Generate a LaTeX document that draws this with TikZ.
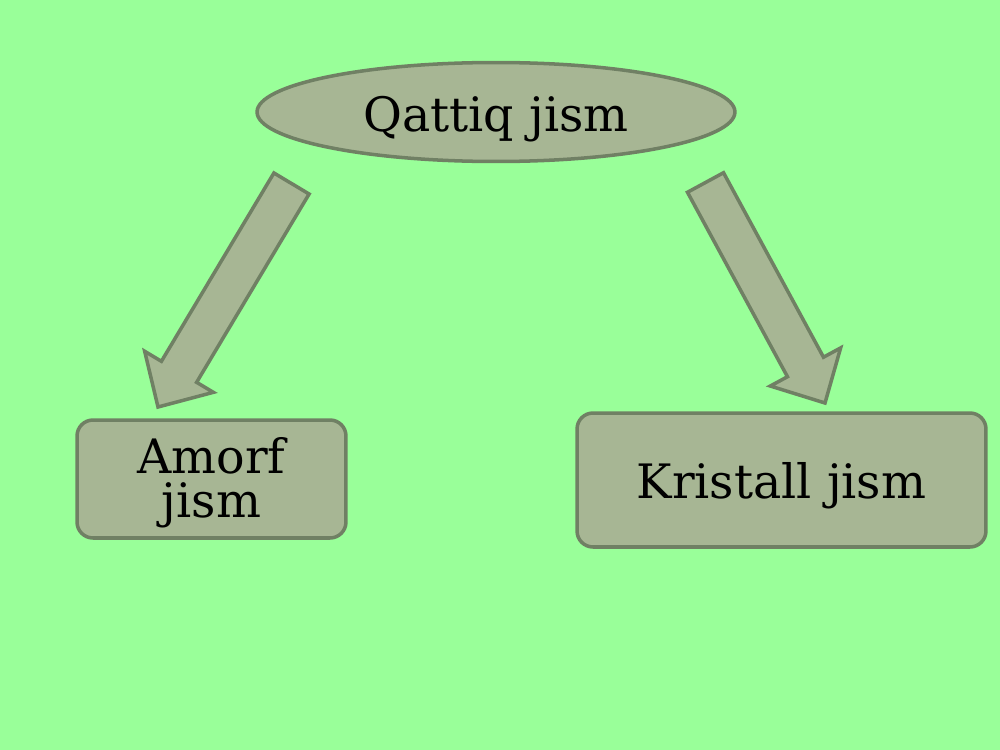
\documentclass[tikz,border=0pt]{standalone}
\usepackage{fontspec}
\setmainfont{DejaVu Serif}
\usetikzlibrary{
  shapes.geometric,
  positioning,
  calc}

\definecolor{bgcolor}{RGB}{153,255,153}
\definecolor{shapecolor}{RGB}{167,182,148}
\definecolor{edgecolor}{RGB}{112,128,100}

\tikzset{
  %% solid : the ellipse on top
  solid/.style={
    ellipse,
    fill=shapecolor,
    draw=edgecolor,
    line width=2pt,
    minimum width=9.56cm,
    minimum height=1.98cm,
    inner sep=0pt,
    text height=1.05cm,
    text depth=0.25cm,
    font=\fontsize{27}{32}\selectfont
  },
  %% kind : a kind of solid
  kind/.style={
    rectangle,
    rounded corners=0.32cm,
    fill=shapecolor,
    draw=edgecolor,
    line width=2pt,
    inner sep=0pt,
    align=center,
    font=\fontsize{27}{25.6}\selectfont
  },
  %% blockarrow : the thick arrows
  blockarrow/.style={
    fill=shapecolor,
    draw=edgecolor,
    line width=2pt,
    line join=miter
  }
}

%% block arrow from #1 (tail) to #2 (tip)
\newcommand\blockarrow[2]{%
  \coordinate (#2-base) at ($(#2)!0.82cm!(#1)$);
  \draw [blockarrow]
    ($(#1)!0.41cm!90:(#2)$) --
    ($(#2-base)!0.41cm!-90:(#1)$) --
    ($(#2-base)!0.80cm!-90:(#1)$) --
    (#2) --
    ($(#2-base)!0.80cm!90:(#1)$) --
    ($(#2-base)!0.41cm!90:(#1)$) --
    ($(#1)!0.41cm!-90:(#2)$) -- cycle;}

\begin{document}
\begin{tikzpicture}
  [x=0.02cm,
  y=-0.02cm]

  \fill [bgcolor] (0,0) rectangle (1000,750);
  \useasboundingbox (0,0) rectangle (1000,750);

  %% top node
  \node (solid) [solid] at (496,112) {Qattiq jism};

  %% the two kinds
  \node (amorf) [kind, minimum width=5.38cm, minimum height=2.36cm,
    text height=1.81cm, text depth=0.25cm]
    at (211.5,479) {Amorf\\jism};
  \node (kristall) [kind, minimum width=8.18cm, minimum height=2.68cm,
    text height=0.97cm, text depth=0.25cm]
    at (781.5,480) {Kristall jism};

  %% arrows
  \coordinate (left-tail) at (291.5,183.5);
  \coordinate (left-tip) at (158,407);
  \coordinate (right-tail) at (705.5,182.5);
  \coordinate (right-tip) at (825,403);

  \blockarrow{left-tail}{left-tip}
  \blockarrow{right-tail}{right-tip}

\end{tikzpicture}
\end{document}
